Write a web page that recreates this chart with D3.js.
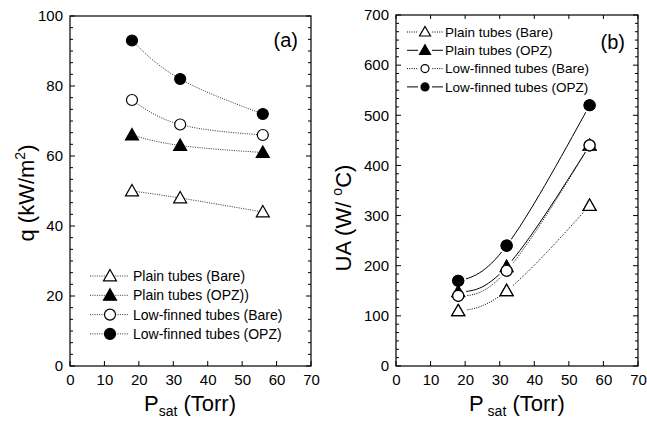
<!DOCTYPE html>
<html><head><meta charset="utf-8">
<script src="https://cdn.jsdelivr.net/npm/d3@7"></script>
<style>body{margin:0;background:#fff}svg{display:block}text{font-family:"Liberation Sans",Arial,sans-serif !important;fill:#000}</style>
</head><body><div id="chart"></div>
<script>
// ---- data ----
const pressures = [18, 32, 56];
const seriesNames = ["Plain tubes (Bare)", "Plain tubes (OPZ)", "Low-finned tubes (Bare)", "Low-finned tubes (OPZ)"];
const legendA = ["Plain tubes (Bare)", "Plain tubes (OPZ))", "Low-finned tubes (Bare)", "Low-finned tubes (OPZ)"];
const markerTypes = ["triOpen", "triFilled", "circOpen", "circFilled"];
const qPlainBare = [50, 48, 44];
const qPlainOPZ = [66, 63, 61];
const qFinBare = [76, 69, 66];
const qFinOPZ = [93, 82, 72];
const uaPlainBare = [110, 150, 320];
const uaPlainOPZ = [148, 198, 440];
const uaFinBare = [140, 190, 440];
const uaFinOPZ = [170, 240, 520];
const xTicks = [0, 10, 20, 30, 40, 50, 60, 70];
const qTicks = [0, 20, 40, 60, 80, 100];
const uaTicks = [0, 100, 200, 300, 400, 500, 600, 700];
const dashB = ["dot", "solid", "dot", "solid"];

const W = 647, H = 421;
const FONT = '"Liberation Sans", Arial, sans-serif';
const svg = d3.select("#chart").append("svg").attr("width", W).attr("height", H).attr("font-family", FONT);

function marker(g, type, x, y, halo) {
  const r = 5.5;
  if (halo) {
    g.append("circle").attr("cx", x).attr("cy", y).attr("r", r + 2.5).attr("fill", "#fff");
  }
  if (type.startsWith("circ")) {
    g.append("circle").attr("cx", x).attr("cy", y).attr("r", r)
      .attr("fill", type === "circFilled" ? "#000" : "#fff").attr("stroke", "#000").attr("stroke-width", 1.2);
  } else {
    const s = 6.5;
    g.append("path").attr("d", `M${x},${y - s}L${x + s},${y + s * 0.75}L${x - s},${y + s * 0.75}Z`)
      .attr("fill", type === "triFilled" ? "#000" : "#fff").attr("stroke", "#000").attr("stroke-width", 1.2);
  }
}

function panel(opts) {
  const g = svg.append("g");
  const x = d3.scaleLinear().domain([0, 70]).range([opts.x0, opts.x1]);
  const y = d3.scaleLinear().domain([0, opts.ymax]).range([opts.y0, opts.y1]);
  g.append("rect").attr("x", opts.x0).attr("y", opts.y1).attr("width", opts.x1 - opts.x0).attr("height", opts.y0 - opts.y1)
    .attr("fill", "none").attr("stroke", "#000").attr("stroke-width", 1.2);
  const minorStep = opts.yStep / 6;
  for (let v = 0; v <= opts.ymax + 1e-6; v += minorStep) {
    const isMaj = Math.abs(v / opts.yStep - Math.round(v / opts.yStep)) < 1e-6;
    const len = isMaj ? 5 : 3;
    g.append("line").attr("x1", opts.x0).attr("x2", opts.x0 + len).attr("y1", y(v)).attr("y2", y(v)).attr("stroke", "#000");
    g.append("line").attr("x1", opts.x1).attr("x2", opts.x1 - len).attr("y1", y(v)).attr("y2", y(v)).attr("stroke", "#000");
  }
  const yAxis = d3.axisLeft(y).tickValues(opts.yTicks).tickSize(0).tickPadding(7);
  const ya = g.append("g").attr("transform", `translate(${opts.x0},0)`).call(yAxis);
  ya.attr("font-family", FONT).attr("font-size", 15);
  ya.select(".domain").remove();
  ya.selectAll("text").attr("fill", "#000");
  xTicks.forEach(v => {
    g.append("line").attr("x1", x(v)).attr("x2", x(v)).attr("y1", opts.y0).attr("y2", opts.y0 - 5).attr("stroke", "#000");
    if (opts.topTicks) g.append("line").attr("x1", x(v)).attr("x2", x(v)).attr("y1", opts.y1).attr("y2", opts.y1 + 4).attr("stroke", "#000");
  });
  const xAxis = d3.axisBottom(x).tickValues(xTicks).tickSize(0).tickPadding(8);
  const xa = g.append("g").attr("transform", `translate(0,${opts.y0})`).call(xAxis);
  xa.attr("font-family", FONT).attr("font-size", 15);
  xa.select(".domain").remove();
  xa.selectAll("text").attr("fill", "#000");
  return { g, x, y };
}

// ---- panel (a) ----
const A = panel({ x0: 70, x1: 311, y0: 366, y1: 16, ymax: 100, yStep: 20, yTicks: qTicks, topTicks: false });
const qSeries = [qPlainBare, qPlainOPZ, qFinBare, qFinOPZ];
const lineA = d3.line().x((d, i) => A.x(pressures[i])).y(d => A.y(d)).curve(d3.curveNatural);
qSeries.forEach((s, k) => {
  A.g.append("path").attr("d", lineA(s)).attr("fill", "none").attr("stroke", "#333").attr("stroke-width", 1)
    .attr("stroke-dasharray", "1,1.3");
});
qSeries.forEach((s, k) => s.forEach((v, i) => marker(A.g, markerTypes[k], A.x(pressures[i]), A.y(v), false)));
legendA.forEach((name, k) => {
  const yy = 276 + k * 19.3;
  A.g.append("line").attr("x1", 90).attr("x2", 128).attr("y1", yy).attr("y2", yy).attr("stroke", "#333").attr("stroke-dasharray", "1,1.3");
  marker(A.g, markerTypes[k], 110, yy, false);
  A.g.append("text").attr("x", 133).attr("y", yy).attr("dy", "0.35em").style("font-size", "14px").text(name);
});
A.g.append("text").attr("x", 298).attr("y", 40).attr("dy", "0.35em").attr("text-anchor", "end").style("font-size", "20px").text("(a)");
const qt = svg.append("text").attr("transform", "translate(34,193) rotate(-90)").attr("text-anchor", "middle").style("font-size", "22px");
qt.append("tspan").text("q (kW/m");
qt.append("tspan").attr("dy", -9).style("font-size", "14px").text("2");
qt.append("tspan").attr("dy", 9).text(")");
const pa = svg.append("text").attr("x", 190).attr("y", 411).attr("text-anchor", "middle").style("font-size", "22px");
pa.append("tspan").text("P");
pa.append("tspan").attr("dy", 5).style("font-size", "14px").text("sat");
pa.append("tspan").attr("dy", -5).text(" (Torr)");

// ---- panel (b) ----
const B = panel({ x0: 396, x1: 638, y0: 366, y1: 15, ymax: 700, yStep: 100, yTicks: uaTicks, topTicks: true });
const uaSeries = [uaPlainBare, uaPlainOPZ, uaFinBare, uaFinOPZ];
const lineB = d3.line().x((d, i) => B.x(pressures[i])).y(d => B.y(d)).curve(d3.curveNatural);
uaSeries.forEach((s, k) => {
  B.g.append("path").attr("d", lineB(s)).attr("fill", "none").attr("stroke", "#000").attr("stroke-width", 1)
    .attr("stroke-dasharray", dashB[k] === "dot" ? "1,1.3" : null);
});
uaSeries.forEach((s, k) => s.forEach((v, i) => marker(B.g, markerTypes[k], B.x(pressures[i]), B.y(v), true)));
uaSeries.forEach((s, k) => s.forEach((v, i) => marker(B.g, markerTypes[k], B.x(pressures[i]), B.y(v), false)));
seriesNames.forEach((name, k) => {
  const yy = 32 + k * 18.3;
  B.g.append("line").attr("x1", 407).attr("x2", 443).attr("y1", yy).attr("y2", yy).attr("stroke", "#000")
    .attr("stroke-dasharray", dashB[k] === "dot" ? "1,1.3" : null);
  B.g.append("rect").attr("x", 418).attr("y", yy - 7).attr("width", 14).attr("height", 14).attr("fill", "#fff");
  const t = markerTypes[k];
  if (t.startsWith("circ")) {
    B.g.append("circle").attr("cx", 425).attr("cy", yy).attr("r", 4).attr("fill", t === "circFilled" ? "#000" : "#fff").attr("stroke", "#000").attr("stroke-width", 1.2);
  } else {
    B.g.append("path").attr("d", `M425,${yy - 5.5}L430.5,${yy + 4}L419.5,${yy + 4}Z`).attr("fill", t === "triFilled" ? "#000" : "#fff").attr("stroke", "#000").attr("stroke-width", 1.2);
  }
  B.g.append("text").attr("x", 445).attr("y", yy).attr("dy", "0.35em").style("font-size", "13.5px").text(name);
});
B.g.append("text").attr("x", 625).attr("y", 42).attr("dy", "0.35em").attr("text-anchor", "end").style("font-size", "20px").text("(b)");
const ut = svg.append("text").attr("transform", "translate(351,218) rotate(-90)").attr("text-anchor", "middle").style("font-size", "22px");
ut.append("tspan").text("UA (W/ ");
ut.append("tspan").attr("dy", -9).style("font-size", "14px").text("o");
ut.append("tspan").attr("dy", 9).text("C)");
const pb = svg.append("text").attr("x", 517).attr("y", 411).attr("text-anchor", "middle").style("font-size", "22px");
pb.append("tspan").text("P");
pb.append("tspan").attr("dy", 5).style("font-size", "14px").text(" sat");
pb.append("tspan").attr("dy", -5).text(" (Torr)");
</script></body></html>
